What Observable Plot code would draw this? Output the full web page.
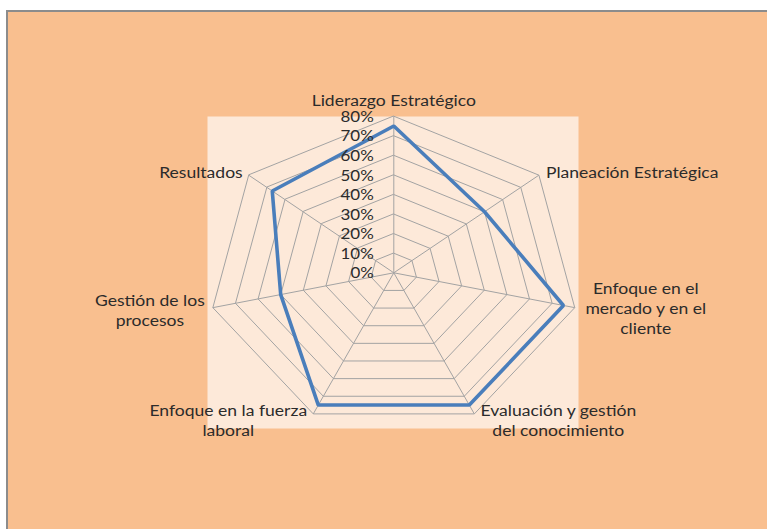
<!DOCTYPE html>
<html>
<head>
<meta charset="utf-8">
<script src="https://cdn.jsdelivr.net/npm/d3@7"></script>
<script src="https://cdn.jsdelivr.net/npm/@observablehq/plot@0.6"></script>
<style>
  html, body { margin: 0; padding: 0; background: #ffffff; }
  #wrap { position: relative; width: 767px; height: 529px; overflow: hidden; }
  #bg { position: absolute; left: 6px; top: 10px; right: -4px; bottom: -4px;
        background: #F9BF8F; border-top: 2px solid #8c8c8c; border-left: 2px solid #8c8c8c; }
  #chart { position: absolute; left: 0; top: 0; }
  #chart svg { background: transparent; overflow: visible; }
</style>
</head>
<body>
<div id="wrap"><div id="bg"></div><div id="chart"></div></div>
<script>
// ---- data ----
const categories = [
  "Liderazgo Estratégico",
  "Planeación Estratégica",
  "Enfoque en el\nmercado y en el\ncliente",
  "Evaluación y gestión\ndel conocimiento",
  "Enfoque en la fuerza\nlaboral",
  "Gestión de los\nprocesos",
  "Resultados"
];
const values = [0.75, 0.50, 0.75, 0.75, 0.75, 0.50, 0.67];
const tickLevels = [0, 0.1, 0.2, 0.3, 0.4, 0.5, 0.6, 0.7, 0.8];
const tickLabels = ["0%", "10%", "20%", "30%", "40%", "50%", "60%", "70%", "80%"];

// ---- layout (pixels) ----
const W = 767, H = 529;
const cx = 393.3, cy = 272.3;     // centre of the radar
const kx = 232, ky = 195.75;      // pixels per unit, horizontal / vertical
const inner = {left: 207, right: 578, top: 116, bottom: 428};
const stretch = 1.17;             // horizontal stretch of the lettering
// label placement: anchor and pixel offset from the outer vertex
const labelLayout = [
  {anchor: "middle", dx: 0,   dy: -17},
  {anchor: "start",  dx: 7,   dy: -4},
  {anchor: "middle", dx: 71,  dy: 0},
  {anchor: "middle", dx: 84,  dy: 6},
  {anchor: "middle", dx: -85, dy: 6},
  {anchor: "middle", dx: -63, dy: 2},
  {anchor: "end",    dx: -6,  dy: -4}
];

const n = categories.length;
const maxLevel = d3.max(tickLevels);
const angle = i => (2 * Math.PI * i) / n;

const rings = [];
for (const L of tickLevels.filter(l => l > 0)) {
  for (let i = 0; i < n; i++) rings.push({level: L, x: L * Math.sin(angle(i)), y: L * Math.cos(angle(i))});
}
const spokes = categories.map((c, i) => ({x2: maxLevel * Math.sin(angle(i)), y2: maxLevel * Math.cos(angle(i))}));
const series = values.map((v, i) => ({x: v * Math.sin(angle(i)), y: v * Math.cos(angle(i))}));
const labels = categories.map((c, i) => ({
  text: c,
  anchor: labelLayout[i].anchor,
  x: maxLevel * Math.sin(angle(i)) + labelLayout[i].dx / kx,
  y: maxLevel * Math.cos(angle(i)) - labelLayout[i].dy / ky
}));
const ticks = tickLevels.map((l, i) => ({x: 0, y: l, label: tickLabels[i]}));

const font = "Lato, 'Open Sans', sans-serif";
const textCol = "#2b2b2b";

const chart = Plot.plot({
  width: W,
  height: H,
  marginLeft: inner.left,
  marginRight: W - inner.right,
  marginTop: inner.top,
  marginBottom: H - inner.bottom,
  style: {fontFamily: font, background: "transparent", overflow: "visible"},
  x: {domain: [(inner.left - cx) / kx, (inner.right - cx) / kx], axis: null},
  y: {domain: [(cy - inner.bottom) / ky, (cy - inner.top) / ky], axis: null},
  marks: [
    Plot.frame({fill: "#FDE9D9", stroke: null}),
    Plot.line(rings, {x: "x", y: "y", z: "level", curve: "linear-closed", stroke: "#a3a3a3", strokeWidth: 1}),
    Plot.link(spokes, {x1: 0, y1: 0, x2: "x2", y2: "y2", stroke: "#a3a3a3", strokeWidth: 1}),
    Plot.line(series, {x: "x", y: "y", curve: "linear-closed", stroke: "#4A7EBB", strokeWidth: 3.6, strokeLinejoin: "miter"}),
    Plot.text(ticks, {x: "x", y: "y", text: "label", textAnchor: "end", dx: -20, dy: 1, fontSize: 14.5, fill: textCol}),
    ...["start", "middle", "end"].map(a =>
      Plot.text(labels.filter(d => d.anchor === a), {
        x: "x", y: "y", text: "text", textAnchor: a, lineAnchor: "middle",
        lineHeight: 1.33, fontSize: 15, fill: textCol
      })
    )
  ]
});
// widen the lettering horizontally about each text's own anchor point
d3.select(chart).selectAll("text").each(function () {
  const t = this.getAttribute("transform") || "";
  this.setAttribute("transform", (t + ` scale(${stretch},1)`).trim());
});
document.getElementById("chart").appendChild(chart);
</script>
</body>
</html>
